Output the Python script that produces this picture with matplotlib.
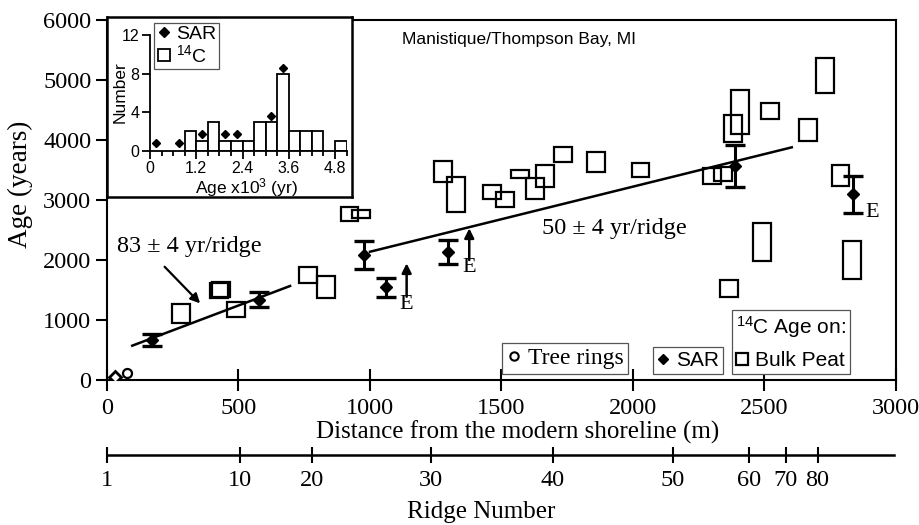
import matplotlib
matplotlib.use("Agg")
import numpy as np
import matplotlib.pyplot as plt
from matplotlib.lines import Line2D
from matplotlib.patches import Rectangle

SERIF = "Liberation Serif"
SANS = "Liberation Sans"
plt.rcParams["font.family"] = SERIF
plt.rcParams["mathtext.fontset"] = "custom"
plt.rcParams["mathtext.rm"] = SANS
plt.rcParams["mathtext.default"] = "rm"

# ---- main panel: distance from shoreline (m) vs age (yr) ----
sar_dist = [171, 580, 979, 1060, 1298, 2388, 2838]
sar_age = [667, 1340, 2086, 1544, 2133, 3570, 3094]
sar_err = [100, 125, 236, 161, 200, 348, 306]

# SAR sample right at the shoreline (no error bar)
sar0_dist = [32]
sar0_age = [50]

tree_dist = [76]
tree_age = [112]

# bulk peat 14C ages: box centre (m), lower / upper age (yr)
peat_dist = [283, 426, 434, 493, 766, 835, 923, 966, 1279, 1327, 1464, 1515,
             1570, 1629, 1665, 1735, 1860, 2029, 2300, 2341, 2366, 2382, 2408,
             2520, 2665, 2729, 2789, 2489, 2832]
peat_lo = [945, 1362, 1388, 1055, 1622, 1362, 2655, 2695, 3305, 2805, 3012, 2878,
           3362, 3012, 3212, 3628, 3472, 3378, 3267, 3322, 1388, 3962, 4100,
           4345, 3983, 4788, 3233, 1988, 1678]
peat_hi = [1262, 1612, 1638, 1305, 1878, 1733, 2888, 2833, 3655, 3378, 3250, 3138,
           3500, 3362, 3583, 3888, 3795, 3612, 3528, 3555, 1667, 4417, 4833,
           4612, 4345, 5362, 3583, 2622, 2317]
PEAT_W = 68

# regression lines
fit1_dist = [97, 697]
fit1_age = [572, 1567]
fit2_dist = [1001, 2604]
fit2_age = [2138, 3878]

# "E" arrows: distance, tail age, head age
e_dist = [1140, 1378]
e_from = [1388, 2000]
e_to = [1945, 2528]

# ridge number scale
ridge_num = [1, 10, 20, 30, 40, 50, 60, 70, 80]
ridge_dist = [0, 507, 782, 1233, 1696, 2152, 2442, 2581, 2702]
RIDGE_END = 2991

# ---- inset histogram ----
hist_left = [0.9, 1.2, 1.5, 1.8, 2.1, 2.4, 2.7, 3.0, 3.3, 3.6, 3.9, 4.2, 4.8]
hist_count = [2, 1, 3, 1, 1, 1, 3, 3, 8, 2, 2, 2, 1]
HIST_BIN = 0.3
sar_hist_age = [0.15, 0.75, 1.35, 1.95, 2.25, 3.15, 3.45]
sar_hist_n = [0.75, 0.75, 1.7, 1.7, 1.7, 3.6, 8.6]

W, H = 919, 525
fig = plt.figure(figsize=(W / 100, H / 100), dpi=100)


def fx(px):
    return px / W


def fy(py):
    return 1 - py / H


def box(x0, y0, x1, y1):
    # pixel box (top-left origin) -> figure rect
    return [fx(x0), fy(y1), fx(x1) - fx(x0), fy(y0) - fy(y1)]


ax = fig.add_axes(box(106.7, 20, 896, 380))
ax.set_xlim(0, 3000)
ax.set_ylim(0, 6000)

for d, lo, hi in zip(peat_dist, peat_lo, peat_hi):
    ax.add_patch(Rectangle((d - PEAT_W / 2, lo), PEAT_W, hi - lo, fill=False,
                           ec="black", lw=1.6, zorder=3))

ax.plot(fit1_dist, fit1_age, color="black", lw=1.8, zorder=3)
ax.plot(fit2_dist, fit2_age, color="black", lw=1.8, zorder=3)

ax.errorbar(sar_dist, sar_age, yerr=sar_err, fmt="D", color="black", ms=6.5,
            elinewidth=2.2, capsize=7.5, capthick=2.4, zorder=4)
ax.plot(sar0_dist, sar0_age, "D", mfc="white", mec="black", mew=2, ms=6,
        ls="none", zorder=5)
ax.plot(tree_dist, tree_age, "o", mfc="white", mec="black", mew=1.6, ms=6.5,
        ls="none", zorder=5)

for d, a, b in zip(e_dist, e_from, e_to):
    ax.annotate("", xy=(d, b), xytext=(d, a),
                arrowprops=dict(arrowstyle="-|>", lw=1.8, color="black",
                                mutation_scale=14, shrinkA=0, shrinkB=0))
    ax.text(d, a + 30, "E", ha="center", va="top", fontsize=16)
ax.text(2911, 2792, "E", ha="center", va="center", fontsize=16)

ax.annotate("", xy=(355, 1278), xytext=(220, 1888),
            arrowprops=dict(arrowstyle="-|>", lw=1.6, color="black",
                            mutation_scale=14, shrinkA=0, shrinkB=0))
ax.text(38, 2222, "83 \u00b1 4 yr/ridge", ha="left", va="center", fontsize=17.5)
ax.text(1653, 2528, "50 \u00b1 4 yr/ridge", ha="left", va="center", fontsize=17.5)
ax.text(1121, 5683, "Manistique/Thompson Bay, MI", ha="left", va="center",
        fontsize=12.5, family=SANS)

ax.set_xticks(range(0, 3001, 500))
ax.set_yticks(range(0, 6001, 1000))
ax.tick_params(axis="x", direction="inout", length=16, width=1.5, pad=5,
               labelsize=17.5)
ax.tick_params(axis="y", direction="out", length=8, width=1.5, pad=3,
               labelsize=17.5)
for s in ax.spines.values():
    s.set_linewidth(1.5)

fig.text(fx(518), fy(432), "Distance from the modern shoreline (m)",
         ha="center", va="center", fontsize=18)
fig.text(fx(20), fy(184), "Age (years)", rotation=90, ha="center",
         va="center", fontsize=19.5)

# legends in the main panel
lkw = dict(loc="lower left", bbox_transform=fig.transFigure, frameon=True,
           fancybox=False, edgecolor="#555555", framealpha=1, borderpad=0.2,
           handlelength=0.6, handletextpad=0.3, borderaxespad=0)
leg1 = ax.legend(handles=[Line2D([], [], marker="o", mfc="white", mec="black",
                                 mew=1.5, ms=6, ls="none")],
                 labels=["Tree rings"], bbox_to_anchor=(fx(501.7), fy(374)),
                 prop={"family": SERIF, "size": 17}, **lkw)
leg1.get_frame().set_linewidth(0.9)
ax.add_artist(leg1)
leg2 = ax.legend(handles=[Line2D([], [], marker="D", color="black", ms=5.5,
                                 ls="none")],
                 labels=["SAR"], bbox_to_anchor=(fx(652.7), fy(374)),
                 prop={"family": SANS, "size": 15}, **lkw)
leg2.get_frame().set_linewidth(0.9)
ax.add_artist(leg2)
leg3 = ax.legend(handles=[Line2D([], [], marker="s", mfc="white", mec="black",
                                 mew=1.6, ms=9, ls="none")],
                 labels=["Bulk Peat"], bbox_to_anchor=(fx(731.7), fy(374)),
                 title="$^{14}$C Age on:", alignment="left",
                 title_fontproperties={"family": SANS, "size": 15},
                 prop={"family": SANS, "size": 15}, **lkw)
leg3.get_frame().set_linewidth(0.9)

# ridge number axis
rax = fig.add_axes(box(106.7, 453.5, 896, 454.5))
rax.set_xlim(0, 3000)
rax.patch.set_visible(False)
for k in ("left", "right", "top"):
    rax.spines[k].set_visible(False)
rax.spines["bottom"].set_bounds(0, RIDGE_END)
rax.spines["bottom"].set_linewidth(1.8)
rax.set_yticks([])
rax.set_xticks(ridge_dist, [str(n) for n in ridge_num])
rax.tick_params(axis="x", direction="inout", length=12, width=1.5, pad=5,
                labelsize=17.5)
fig.text(fx(481), fy(512), "Ridge Number", ha="center", va="center",
         fontsize=18)

# inset: frame + histogram
frame = fig.add_axes(box(107, 17, 352, 197))
frame.set_xticks([])
frame.set_yticks([])
for s in frame.spines.values():
    s.set_linewidth(1.8)

hx = fig.add_axes(box(150, 35, 346.6, 150.7))
hx.patch.set_visible(False)
hx.spines["top"].set_visible(False)
hx.spines["right"].set_visible(False)
hx.bar(hist_left, hist_count, width=HIST_BIN, align="edge", facecolor="white",
       edgecolor="black", lw=1.3)
hx.plot(sar_hist_age, sar_hist_n, "D", color="black", ms=4.2, ls="none")
hx.set_xlim(0, 5.1)
hx.set_ylim(0, 12)
hx.set_xticks([0, 1.2, 2.4, 3.6, 4.8], ["0", "1.2", "2.4", "3.6", "4.8"])
hx.set_xticks(np.arange(0, 5.11, 0.3), minor=True)
hx.set_yticks([0, 4, 8, 12])
hx.tick_params(axis="both", which="major", direction="out", length=6, width=1.3,
               pad=1.5, labelsize=11.5)
hx.tick_params(axis="x", which="minor", direction="out", length=3.5, width=1.3)
for lbl in hx.get_xticklabels() + hx.get_yticklabels():
    lbl.set_family(SANS)
for s in ("left", "bottom"):
    hx.spines[s].set_linewidth(1.3)
fig.text(fx(246.7), fy(188), "Age x10$^3$ (yr)", ha="center", va="center",
         fontsize=12.5, family=SANS)
fig.text(fx(120), fy(92), "Number", rotation=90, ha="center", va="center",
         fontsize=12.5, family=SANS)
hleg = hx.legend(handles=[Line2D([], [], marker="D", color="black", ms=5,
                                 ls="none"),
                          Line2D([], [], marker="s", mfc="white", mec="black",
                                 mew=1.3, ms=8, ls="none")],
                 labels=["SAR", "$^{14}$C"], loc="upper left",
                 bbox_to_anchor=(fx(154), fy(22.7)),
                 bbox_transform=fig.transFigure, prop={"family": SANS, "size": 14},
                 frameon=True, fancybox=False, edgecolor="#555555", framealpha=1,
                 borderpad=0.15, handlelength=0.7, handletextpad=0.3,
                 labelspacing=0.05, borderaxespad=0)
hleg.get_frame().set_linewidth(0.9)

fig.savefig("out.png", dpi=100)
